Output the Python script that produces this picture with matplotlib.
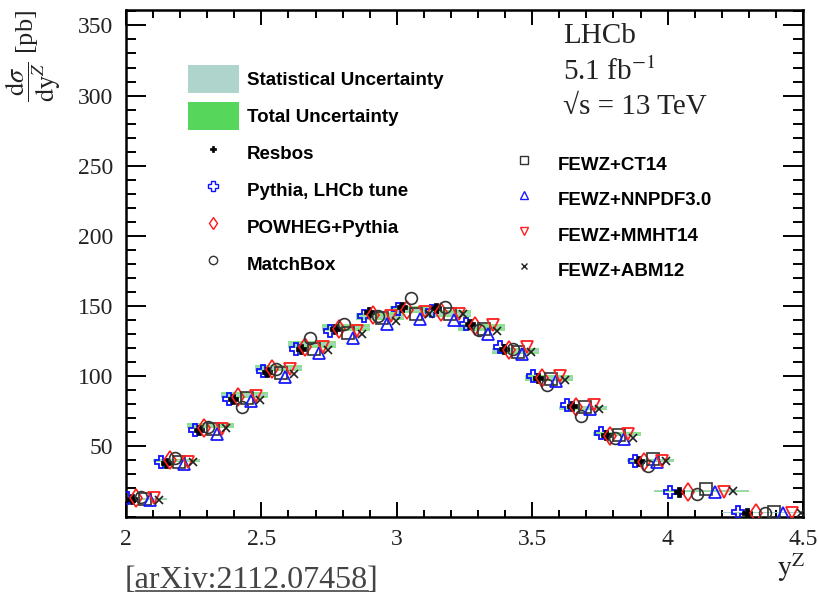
import matplotlib
matplotlib.use("Agg")
import matplotlib.pyplot as plt
import numpy as np
from matplotlib.lines import Line2D
from matplotlib.patches import Patch
from matplotlib.ticker import MultipleLocator

# ---------------- data ----------------
bin_edges = [2.0, 2.125, 2.25, 2.375, 2.5, 2.625, 2.75, 2.875, 3.0, 3.125,
             3.25, 3.375, 3.5, 3.625, 3.75, 3.875, 4.0, 4.25, 4.5]
data_val = [12.6, 39.8, 64.7, 86.8, 105.7, 122.8, 134.7, 142.5, 147.5, 144.5,
            134.7, 118.0, 98.6, 77.3, 58.5, 39.8, 18.5, 2.8]
tot_err = [0.9, 1.3, 1.7, 2.0, 2.2, 2.4, 2.5, 2.6, 2.6, 2.6,
           2.5, 2.3, 2.0, 1.7, 1.4, 1.1, 0.7, 0.4]
stat_err = [0.3, 0.4, 0.5, 0.6, 0.6, 0.7, 0.7, 0.7, 0.7, 0.7,
            0.7, 0.6, 0.6, 0.5, 0.4, 0.4, 0.3, 0.1]

pythia = [13.5, 38.6, 61.7, 83.7, 103.8, 119.3, 132.3, 143.0, 147.7, 146.5,
          137.5, 120.5, 100.2, 79.6, 59.2, 39.8, 17.8, 3.0]
resbos = [12.6, 38.0, 61.3, 83.7, 103.3, 119.3, 133.5, 145.4, 149.3, 148.9,
          137.1, 119.3, 99.0, 78.9, 58.2, 39.8, 17.8, 2.8]
powheg = [13.3, 40.0, 63.1, 84.9, 105.0, 120.5, 133.5, 143.5, 147.0, 146.0,
          135.9, 118.6, 98.5, 77.7, 57.5, 38.6, 17.8, 2.8]
matchbox = [14.0, 41.5, 64.0, 78.3, 105.0, 127.5, 137.1, 143.0, 156.0, 149.3,
            132.8, 119.3, 93.8, 71.8, 56.3, 36.3, 16.1, 2.8]
fewz_ct14 = [12.6, 38.6, 62.4, 84.5, 102.6, 119.3, 131.1, 141.8, 144.2, 144.2,
             133.5, 116.9, 97.8, 78.2, 58.2, 41.0, 19.7, 3.0]
fewz_nnpdf = [11.5, 37.4, 58.9, 82.5, 99.5, 116.2, 127.5, 136.9, 140.6, 139.9,
              129.9, 115.7, 96.6, 76.5, 55.1, 38.6, 17.4, 2.8]
fewz_mmht = [13.3, 38.6, 62.4, 86.1, 105.0, 120.5, 132.3, 143.0, 146.0, 144.2,
             136.6, 120.5, 100.2, 79.6, 58.7, 39.8, 17.8, 2.8]
fewz_abm = [12.0, 38.6, 63.1, 83.0, 101.9, 118.6, 129.9, 139.3, 144.2, 144.2,
            132.3, 117.6, 97.1, 76.5, 56.3, 39.8, 18.5, 2.8]

x_ticks = [2.0, 2.5, 3.0, 3.5, 4.0, 4.5]
x_tick_labels = ["2", "2.5", "3", "3.5", "4", "4.5"]
y_ticks = [50, 100, 150, 200, 250, 300, 350]

# ---------------- style ----------------
plt.rcParams['mathtext.fontset'] = 'stix'
SERIF = ['Liberation Serif', 'DejaVu Serif']
SANS = ['Liberation Sans', 'DejaVu Sans']

fig = plt.figure(figsize=(8.19, 5.99), dpi=100)
W, H = 819, 599
ax_l, ax_r, ax_t, ax_b = 126, 803, 10, 516.5
ax = fig.add_axes([ax_l / W, 1 - ax_b / H, (ax_r - ax_l) / W, (ax_b - ax_t) / H])

edges = np.array(bin_edges)
centers = 0.5 * (edges[:-1] + edges[1:])
widths = edges[1:] - edges[:-1]
dv = np.array(data_val)
te = np.array(tot_err)
se = np.array(stat_err)

# uncertainty bands
ax.bar(centers, 2 * te, bottom=dv - te, width=1.4 * widths, color='#5cd65c',
       alpha=0.7, linewidth=0, zorder=1)
ax.bar(centers, 2 * se, bottom=dv - se, width=1.4 * widths, color='#a9d3c9',
       alpha=0.9, linewidth=0, zorder=2)

series = [
    (pythia, dict(marker='P', mfc='none', mec='#1010ff', ms=9, mew=1.3)),
    (resbos, dict(marker='P', mfc='black', mec='black', ms=6.5, mew=0.5)),
    (powheg, dict(marker='d', mfc='none', mec='#ff1a1a', ms=9.5, mew=1.2)),
    (matchbox, dict(marker='o', mfc='none', mec='#333333', ms=8.5, mew=1.2)),
    (fewz_ct14, dict(marker='s', mfc='none', mec='#333333', ms=8, mew=1.2)),
    (fewz_nnpdf, dict(marker='^', mfc='none', mec='#1a1aff', ms=9, mew=1.3)),
    (fewz_mmht, dict(marker='v', mfc='none', mec='#ff2020', ms=9, mew=1.3)),
    (fewz_abm, dict(marker='x', mfc='none', mec='#222222', ms=6, mew=1.2)),
]
nser = len(series)
for k, (vals, st) in enumerate(series):
    xs = centers + (k - (nser - 1) / 2) * 0.133 * widths
    ax.plot(xs, vals, linestyle='none', zorder=5 + k, **st)

ax.set_xlim(2.0, 4.5)
ax.set_ylim(0, 361)
ax.set_xticks(x_ticks)
ax.set_xticklabels(x_tick_labels)
ax.set_yticks(y_ticks)
ax.xaxis.set_minor_locator(MultipleLocator(0.1))
ax.yaxis.set_minor_locator(MultipleLocator(10))
ax.tick_params(axis='both', which='both', direction='in', top=True, right=True,
               width=1.4, colors='black')
ax.tick_params(axis='x', which='major', length=11, pad=9)
ax.tick_params(axis='x', which='minor', length=5.4)
ax.tick_params(axis='y', which='major', length=14.4, pad=9)
ax.tick_params(axis='y', which='minor', length=7.2)
for lab in ax.get_xticklabels() + ax.get_yticklabels():
    lab.set_family(SERIF)
    lab.set_fontsize(17)
    lab.set_color('#222222')
for sp in ax.spines.values():
    sp.set_linewidth(1.8)

# axis labels
fig.text(33 / W, 1 - 56 / H, r'$\dfrac{\mathrm{d}\sigma}{\mathrm{dy}^{Z}}$ [pb]',
         rotation=90, ha='center', va='center', fontsize=19, family=SERIF,
         color='#222222')
fig.text(805 / W, 1 - 568 / H, r'$\mathrm{y}^{\mathrm{Z}}$', ha='right',
         va='center', fontsize=20, family=SERIF, color='#222222')

# LHCb labels
for txt, ypx in [('LHCb', 43), (r'5.1 fb$^{\mathrm{-1}}$', 80),
                 ('\u221As = 13 TeV', 114)]:
    fig.text(563 / W, 1 - ypx / H, txt, ha='left', va='baseline', fontsize=21,
             family=SERIF, color='#222222')

# legends
fs = 13.5
leg1_handles = [
    Patch(facecolor='#afd4cc', edgecolor='none'),
    Patch(facecolor='#56d65a', edgecolor='none'),
    Line2D([], [], ls='none', marker='P', mfc='black', mec='black', ms=5, mew=0.5),
    Line2D([], [], ls='none', marker='P', mfc='none', mec='#1010ff', ms=6.5, mew=1.0),
    Line2D([], [], ls='none', marker='d', mfc='none', mec='#ff1a1a', ms=6.5, mew=1.0),
    Line2D([], [], ls='none', marker='o', mfc='none', mec='#333333', ms=6, mew=1.0),
]
leg1_labels = ['Statistical Uncertainty', 'Total Uncertainty', 'Resbos',
               'Pythia, LHCb tune', 'POWHEG+Pythia', 'MatchBox']
leg2_handles = [
    Line2D([], [], ls='none', marker='s', mfc='none', mec='#333333', ms=5.5, mew=1.0),
    Line2D([], [], ls='none', marker='^', mfc='none', mec='#1a1aff', ms=6, mew=1.0),
    Line2D([], [], ls='none', marker='v', mfc='none', mec='#ff2020', ms=6, mew=1.0),
    Line2D([], [], ls='none', marker='x', mfc='none', mec='#222222', ms=4.5, mew=1.0),
]
leg2_labels = ['FEWZ+CT14', 'FEWZ+NNPDF3.0', 'FEWZ+MMHT14', 'FEWZ+ABM12']

common = dict(frameon=False, handlelength=2.7, handleheight=1.92,
              handletextpad=0.45, borderpad=0,
              borderaxespad=0, numpoints=1, loc='upper left',
              prop={'family': SANS, 'weight': 'bold', 'size': fs})
leg1 = ax.legend(leg1_handles, leg1_labels, labelspacing=0.48,
                 bbox_to_anchor=(188 / W, 1 - 65 / H),
                 bbox_transform=fig.transFigure, **common)
ax.add_artist(leg1)
leg2 = ax.legend(leg2_handles, leg2_labels, labelspacing=0.4,
                 bbox_to_anchor=(499 / W, 1 - 150 / H),
                 bbox_transform=fig.transFigure, **common)

# arXiv reference with underline
ref = fig.text(125 / W, 1 - 588 / H, '[arXiv:2112.07458]', ha='left',
               va='baseline', fontsize=23, family=SERIF, color='#444444')
fig.canvas.draw()
r = fig.canvas.get_renderer()
bb = ref.get_window_extent(r)
br = fig.text(0, 0, '[', fontsize=23, family=SERIF)
bw = br.get_window_extent(r).width
br.remove()
ul_y = (1 - 591 / H)
fig.add_artist(Line2D([(bb.x0 + bw) / W, (bb.x1 - bw) / W], [ul_y, ul_y],
                      transform=fig.transFigure, color='#444444', lw=1.2))

fig.savefig('out.png', dpi=100)
